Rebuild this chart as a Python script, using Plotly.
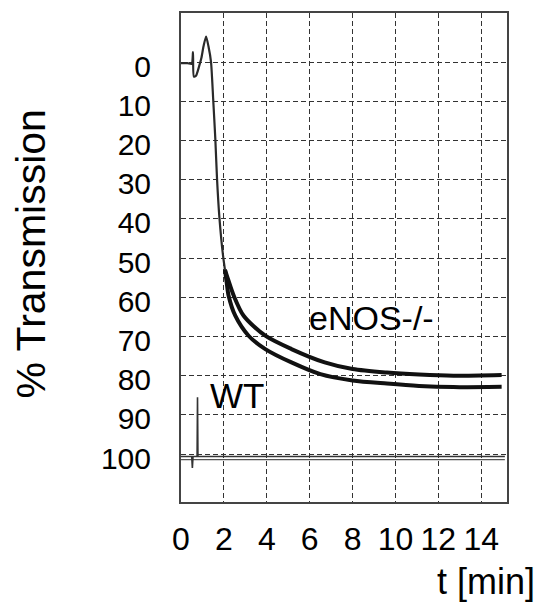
import plotly.graph_objects as go

# Aggregation traces: time in minutes, % light transmission (0 at top)
onset_t = [0.0, 0.30, 0.50, 0.56, 0.60, 0.70, 0.85, 0.95, 1.05, 1.17, 1.28, 1.40, 1.50, 1.60, 1.68, 1.79, 1.96, 2.05]
onset_pct = [0.3, 0.3, 0.5, -2.5, 3.7, 3.5, 1.0, -1.0, -4.0, -6.5, -4.0, 0.0, 9.4, 19.6, 29.8, 39.6, 49.4, 53.0]

wt_t = [2.05, 2.13, 2.22, 2.53, 3.15, 3.93, 5.15, 6.50, 8.00, 9.60, 11.10, 12.70, 14.95]
wt_pct = [53.0, 56.2, 59.6, 64.7, 69.8, 73.2, 76.6, 79.6, 81.2, 82.0, 82.6, 82.9, 82.8]

enos_t = [2.05, 2.20, 2.46, 2.92, 3.93, 5.15, 6.70, 8.00, 9.60, 11.10, 12.70, 14.95]
enos_pct = [53.0, 55.5, 59.6, 64.7, 69.8, 73.2, 76.6, 78.3, 79.2, 79.7, 80.0, 79.8]

# Buffer (100 %) reference line with the injection artefacts
base_t = [0.0, 0.50, 0.53, 0.56, 0.75, 0.77, 0.79, 15.1]
base_pct = [100.6, 100.6, 103.5, 100.6, 100.6, 85.5, 100.6, 100.6]
base2_t = [0.0, 15.1]
base2_pct = [101.4, 101.4]

x_ticks = [0, 2, 4, 6, 8, 10, 12, 14]
y_ticks = [0, 10, 20, 30, 40, 50, 60, 70, 80, 90, 100]

FONT = "Liberation Sans, Arial, sans-serif"
INK = "#111111"

fig = go.Figure()
fig.add_trace(go.Scatter(x=base2_t, y=base2_pct, mode="lines",
                         line=dict(color="#555555", width=1.2), hoverinfo="skip"))
fig.add_trace(go.Scatter(x=base_t, y=base_pct, mode="lines",
                         line=dict(color="#333333", width=1.6), hoverinfo="skip"))
fig.add_trace(go.Scatter(x=onset_t, y=onset_pct, mode="lines", name="onset",
                         line=dict(color="#2a2a2a", width=2.2, shape="spline", smoothing=0.6)))
fig.add_trace(go.Scatter(x=wt_t, y=wt_pct, mode="lines", name="WT",
                         line=dict(color=INK, width=4, shape="spline", smoothing=0.8)))
fig.add_trace(go.Scatter(x=enos_t, y=enos_pct, mode="lines", name="eNOS-/-",
                         line=dict(color=INK, width=4, shape="spline", smoothing=0.8)))

fig.update_layout(
    width=545, height=603,
    margin=dict(l=181, r=38, t=13, b=101),
    paper_bgcolor="white", plot_bgcolor="white",
    showlegend=False,
    font=dict(family=FONT, color="black"),
    xaxis=dict(
        range=[0, 15.2], tickvals=x_ticks, ticktext=[str(v) for v in x_ticks],
        showgrid=True, gridcolor="#333333", gridwidth=1.4, griddash="5px,3px",
        showline=True, linecolor="#444444", linewidth=2, mirror=True,
        ticks="", zeroline=False, tickfont=dict(size=32, family=FONT),
        ticklabelstandoff=8,
    ),
    yaxis=dict(
        range=[112.2, -12.5], tickvals=y_ticks, ticktext=[str(v) for v in y_ticks],
        showgrid=True, gridcolor="#333333", gridwidth=1.4, griddash="5px,3px",
        showline=True, linecolor="#444444", linewidth=2, mirror=True,
        ticks="", zeroline=False, tickfont=dict(size=30, family=FONT),
        ticklabelstandoff=22, ticklabelshift=-4,
    ),
    annotations=[
        dict(text="eNOS-/-", x=8.86, y=65.3, xref="x", yref="y", showarrow=False,
             font=dict(size=34, family=FONT, color="black")),
        dict(text="WT", x=2.63, y=85.0, xref="x", yref="y", showarrow=False,
             font=dict(size=35, family=FONT, color="black")),
        dict(text="% Transmission", x=0, y=0.5, xref="paper", yref="paper",
             xanchor="center", yanchor="middle", xshift=-151, yshift=3,
             textangle=-90, showarrow=False,
             font=dict(size=41, family=FONT, color="black")),
        dict(text="t [min]", x=1, y=0, xref="paper", yref="paper",
             xanchor="right", yanchor="middle", xshift=30, yshift=-79,
             showarrow=False, font=dict(size=36, family=FONT, color="black")),
    ],
)

fig.write_html("out.html")
